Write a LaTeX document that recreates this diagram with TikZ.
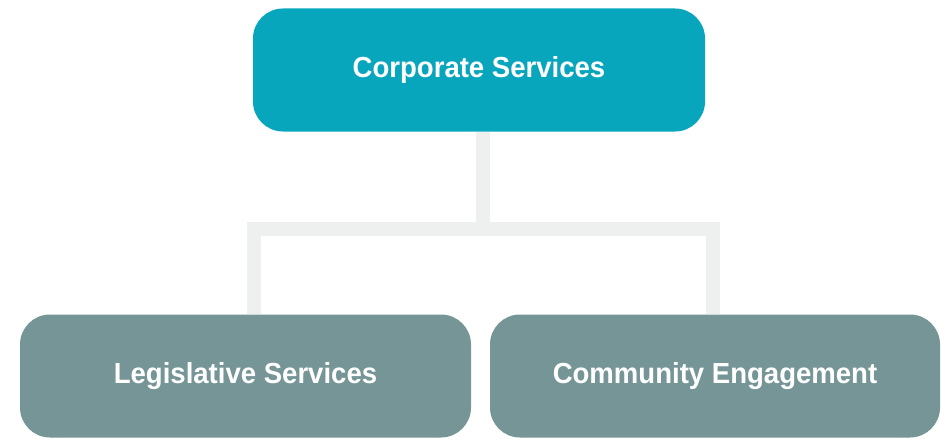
\documentclass[tikz,border=0pt]{standalone}
\usepackage{fontspec}
\setmainfont{Liberation Sans}
\newfontfamily\boxfont[FakeStretch=0.95]{Liberation Sans}
\usetikzlibrary{backgrounds}
\definecolor{topc}{HTML}{07A6BD}
\definecolor{subc}{HTML}{769597}
\definecolor{linec}{HTML}{EEF0F0}
\begin{document}
\begin{tikzpicture}[x=1pt,y=-1pt,
  box/.style={rounded corners=30pt, text=white, font=\boxfont\bfseries\fontsize{29}{34}\selectfont,
    minimum width=452pt, minimum height=123pt, inner sep=0pt},
  conn/.style={draw=linec, line width=14pt}]
\useasboundingbox (0,0) rectangle (949,441);
\node[box, fill=topc] (top) at (479,70) {Corporate Services};
\node[box, fill=subc, minimum width=451pt] (leg) at (245.5,376) {Legislative Services};
\node[box, fill=subc, minimum width=450pt] (com) at (715,376) {Community Engagement};
\coordinate (j) at (482.5,229);
\coordinate (jl) at (253.5,229);
\coordinate (jr) at (712.5,229);
\begin{scope}[on background layer]
\fill[white] (0,0) rectangle (949,441);
\draw[conn] (top.south -| j) -- (j);
\draw[conn] (leg.north -| jl) -- (jl) -- (jr) -- (com.north -| jr);
\end{scope}
\end{tikzpicture}
\end{document}
